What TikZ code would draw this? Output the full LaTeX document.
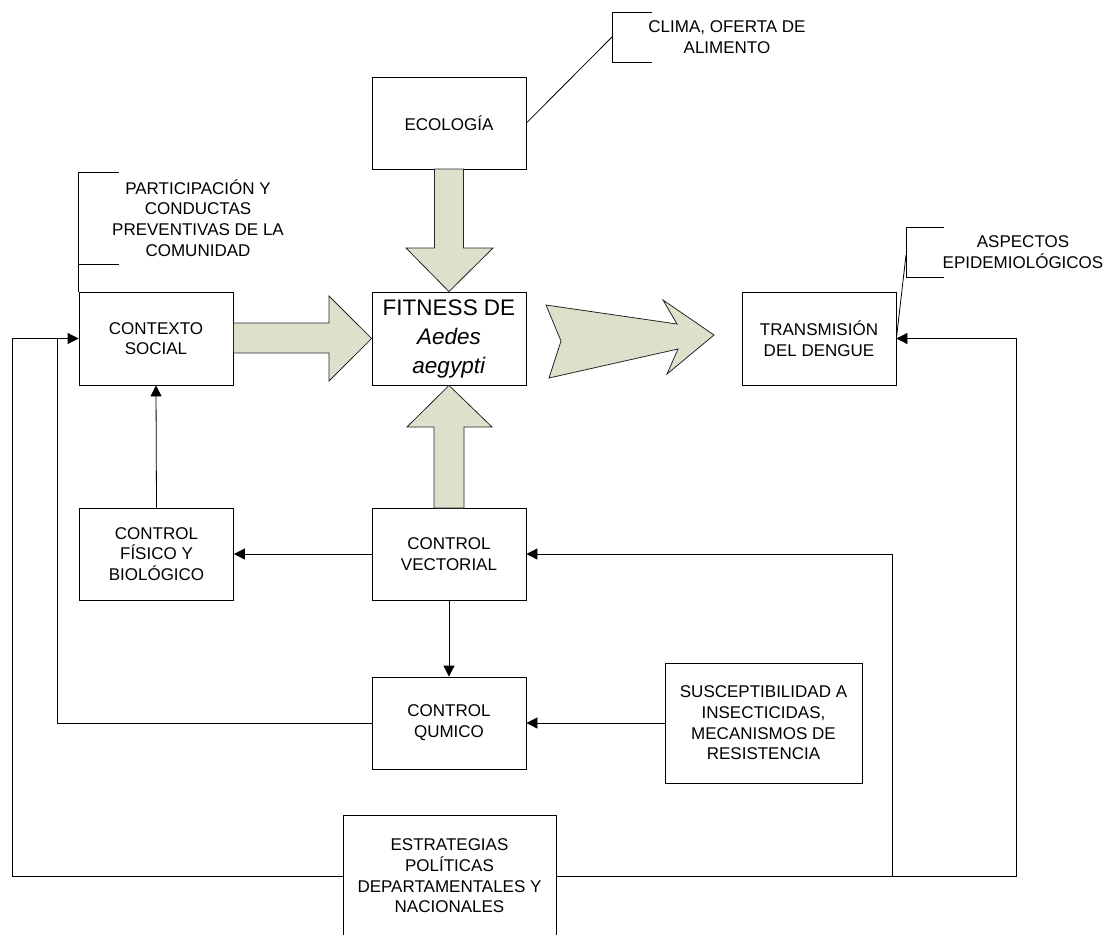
\documentclass[tikz,border=0pt]{standalone}
\usepackage{fontspec}
\setmainfont{Liberation Sans}
\usetikzlibrary{arrows.meta}
\usetikzlibrary{calc}
\definecolor{fatfill}{RGB}{221,225,204}

\begin{document}
\begin{tikzpicture}[
      x=1pt, y=-1pt,
      block/.style={draw, line width=0.8pt, minimum width=154pt, minimum height=93pt,
        inner sep=0pt, align=center, font=\fontsize{17}{20.7}\selectfont},
      note/.style={align=center, font=\fontsize{17}{20.7}\selectfont},
      fat/.style={draw=black!85, fill=fatfill, line width=0.8pt},
      link/.style={line width=0.8pt},
      trans/.style={link,-{Triangle[length=11pt,width=11pt]}},
    ]
    \useasboundingbox (0,0) rectangle (1112,935);
    % Place the boxes.
    \node[block, minimum height=92pt] (ECO) at (449,123) {ECOLOGÍA};
    \node[block, font=\fontsize{22.5}{29}\selectfont] (FIT) at (449,338.5)
        {FITNESS DE\\\textit{Aedes}\\\textit{aegypti}};
    \node[block] (CTX) at (156,338.5) {CONTEXTO\\SOCIAL};
    \node[block] (TRA) at (819,338.5) {TRANSMISIÓN\\DEL DENGUE};
    \node[block, minimum height=92pt] (FIS) at (156.5,554) {CONTROL\\FÍSICO Y\\BIOLÓGICO};
    \node[block, minimum height=92pt] (VEC) at (449,554) {CONTROL\\VECTORIAL};
    \node[block, minimum height=92pt] (QUI) at (449,723) {CONTROL\\QUMICO};
    \node[block, minimum width=197pt, minimum height=120pt] (SUS) at (763.5,723)
        {SUSCEPTIBILIDAD A\\INSECTICIDAS,\\MECANISMOS DE\\RESISTENCIA};
    \node[block, minimum width=213pt, minimum height=122pt] (EST) at (449.5,876)
        {ESTRATEGIAS\\POLÍTICAS\\DEPARTAMENTALES Y\\NACIONALES};

    % Draw the big arrows.
    \draw[fat] (434.5,169) -- (434.5,248) -- (406,248) -- (FIT.north)
        -- (493,248) -- (463.5,248) -- (463.5,169) -- cycle;
    \draw[fat] (CTX.east |- 0,323) -- (329,323) -- (329,296) -- (FIT.west)
        -- (329,381) -- (329,353) -- (CTX.east |- 0,353) -- cycle;
    \draw[fat] (434,508) -- (434,427) -- (407,427) -- (FIT.south)
        -- (492,427) -- (464,427) -- (464,508) -- cycle;
    \draw[fat] (546,305) -- (677,324) -- (663,300) -- (714,335)
        -- (667,374) -- (678,349) -- (549,378) -- (561,341) -- cycle;

    % Draw the notes.
    \coordinate (N1_a) at (612,12);
    \coordinate (N1_b) at ([shift={+(0,50)}] N1_a);
    \coordinate (N1_c) at ($ (N1_a)!.5!(N1_b) $);
    \draw[link] ([shift={+(40,0)}] N1_a) -- (N1_a) -- (N1_b) -- ++(40,0);
    \draw[link] (N1_c) -- (ECO.east);
    \node[note] (CLIMA) at (727,37) {CLIMA, OFERTA DE\\ALIMENTO};

    \coordinate (N2_a) at (906,227);
    \coordinate (N2_b) at ([shift={+(0,50)}] N2_a);
    \coordinate (N2_c) at ([shift={+(0,28)}] N2_a);
    \draw[link] ([shift={+(38,0)}] N2_a) -- (N2_a) -- (N2_b) -- ++(38,0);
    \draw[link] (N2_c) -- (TRA.east);
    \node[note] (ASP) at (1023,252) {ASPECTOS\\EPIDEMIOLÓGICOS};

    \coordinate (N3_a) at (CTX.north west |- 0,172);
    \coordinate (N3_b) at (CTX.north west |- 0,264);
    \draw[link] ([shift={+(40,0)}] N3_a) -- (N3_a) -- (CTX.north west);
    \draw[link] (N3_b) -- ++(40,0);
    \node[note] (PART) at (198,218)
        {PARTICIPACIÓN Y\\CONDUCTAS\\PREVENTIVAS DE LA\\COMUNIDAD};

    % Draw the control links.
    \draw[trans] (FIS.north) -- (CTX.south);
    \draw[trans] (VEC.west) -- (FIS.east);
    \draw[trans] (VEC.south) -- (QUI.north);
    \draw[trans] (SUS.west) -- (QUI.east);
    \coordinate (J_in) at (57,338.5);
    \draw[link] (QUI.west) -| (J_in);

    % Draw the feedback from the strategies.
    \coordinate (J_left) at (12,338.5);
    \coordinate (J_right) at (1016,338.5);
    \coordinate (J_vec) at (892,876);
    \draw[trans] (EST.west) -| (J_left) -- (CTX.west);
    \draw[trans] (EST.east) -| (J_right) -- (TRA.east);
    \draw[trans] (J_vec) |- (VEC.east);
\end{tikzpicture}
\end{document}
